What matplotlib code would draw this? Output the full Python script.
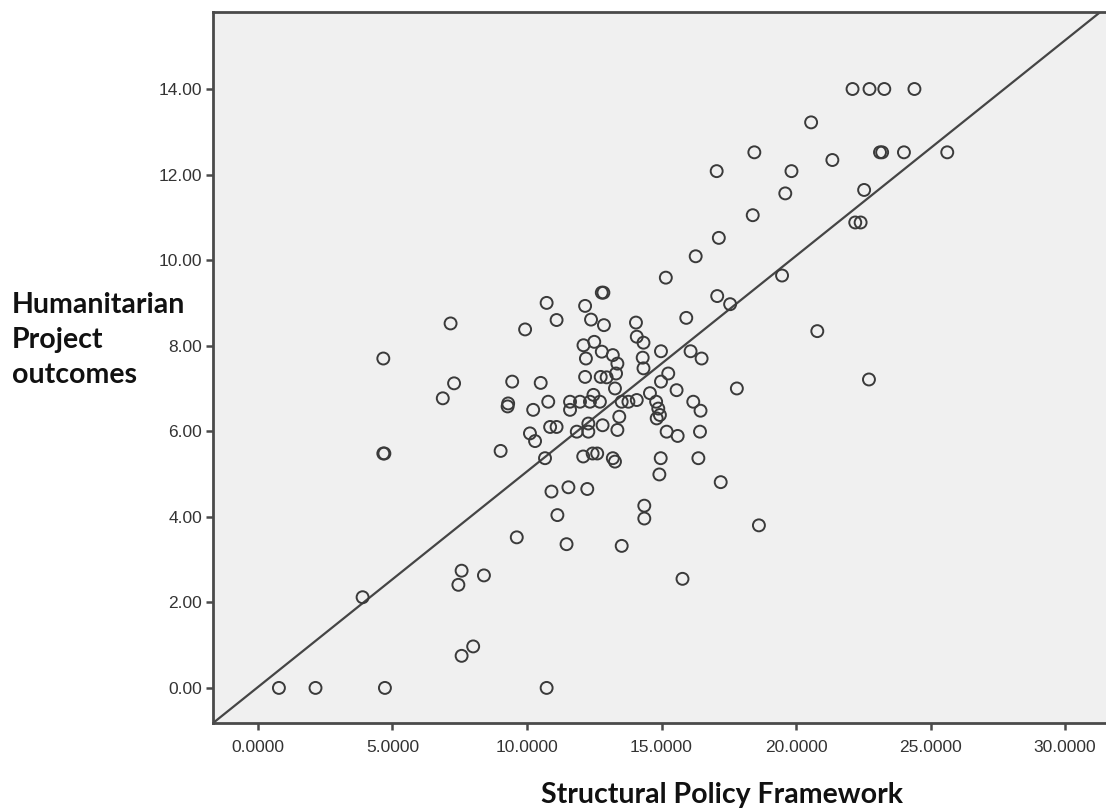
import matplotlib
matplotlib.use("Agg")
import matplotlib.pyplot as plt
from matplotlib.ticker import FormatStrFormatter

# ---- data ----
policy_x = [
    0.78, 2.14, 4.72, 10.73,
    3.89,
    7.57, 7.45, 8.40,
    7.57, 8.00,
    9.62, 11.13, 11.47, 13.52, 14.36, 14.36,
    15.78, 18.62, 17.20,
    4.66, 7.16, 7.29, 6.87, 4.66, 4.70,
    22.10, 22.73, 23.28, 24.40,
    20.56,
    18.45, 23.12, 23.20, 24.01, 25.62,
    17.05, 19.83, 21.35,
    19.60, 22.53,
    18.39, 22.20, 22.40,
    17.13, 16.27,
    15.16, 19.48,
    17.07, 17.55,
    20.79, 22.71, 17.80,
    12.78, 12.84,
    10.73, 11.10, 9.93,
    12.16, 12.38, 12.86,
    14.05, 14.08, 14.33, 14.98, 15.92,
    12.10, 12.50, 12.78, 13.19, 13.36, 12.19,
    14.30, 14.33, 16.08, 16.49,
    15.25, 14.98, 15.56,
    12.16, 12.74, 12.96, 13.31, 13.27,
    9.45, 10.51,
    9.30, 9.28,
    10.23, 10.79,
    11.60, 11.97, 12.34, 12.71, 12.47, 11.60,
    13.52, 13.77, 14.08, 14.57, 14.80, 14.88, 14.94, 14.82,
    16.18, 16.45,
    13.43, 13.36, 12.81, 12.28, 12.28, 11.85,
    10.86, 11.10, 10.11, 10.30,
    9.02, 10.67,
    12.09, 12.44, 12.61, 13.19, 13.27,
    15.19, 15.60, 16.43,
    14.97, 16.37, 14.92,
    10.91, 11.54, 12.24,
]
outcome_y = [
    0.00, 0.00, 0.00, 0.00,
    2.12,
    2.74, 2.41, 2.63,
    0.75, 0.97,
    3.52, 4.04, 3.36, 3.32, 4.26, 3.96,
    2.55, 3.80, 4.81,
    7.70, 8.52, 7.12, 6.77, 5.48, 5.48,
    14.00, 14.00, 14.00, 14.00,
    13.22,
    12.52, 12.52, 12.52, 12.52, 12.52,
    12.08, 12.08, 12.34,
    11.56, 11.64,
    11.05, 10.88, 10.88,
    10.52, 10.09,
    9.59, 9.64,
    9.16, 8.97,
    8.34, 7.21, 7.00,
    9.24, 9.24,
    9.00, 8.60, 8.38,
    8.93, 8.61, 8.48,
    8.54, 8.21, 8.07, 7.87, 8.65,
    8.01, 8.09, 7.86, 7.78, 7.58, 7.70,
    7.72, 7.47, 7.87, 7.70,
    7.35, 7.16, 6.96,
    7.27, 7.27, 7.26, 7.35, 7.00,
    7.16, 7.13,
    6.65, 6.58,
    6.50, 6.69,
    6.69, 6.69, 6.69, 6.69, 6.85, 6.50,
    6.69, 6.69, 6.73, 6.89, 6.69, 6.53, 6.38, 6.30,
    6.69, 6.48,
    6.34, 6.03, 6.14, 6.18, 5.99, 5.99,
    6.10, 6.10, 5.95, 5.77,
    5.54, 5.37,
    5.41, 5.48, 5.48, 5.37, 5.29,
    5.99, 5.89, 5.99,
    5.37, 5.37, 4.99,
    4.59, 4.69, 4.65,
]

fit_intercept = 0.02
fit_slope = 0.504

x_ticks = [0, 5, 10, 15, 20, 25, 30]
y_ticks = [0, 2, 4, 6, 8, 10, 12, 14]

x_label = "Structural Policy Framework"
y_label_lines = ["Humanitarian", "Project", "outcomes"]

# ---- figure ----
W, H = 1106, 810
fig = plt.figure(figsize=(W / 100, H / 100), dpi=100)
fig.patch.set_facecolor("white")
ax = fig.add_axes([213 / W, 1 - 723 / H, (1106 - 213) / W, (723 - 12) / H])
ax.set_facecolor("#f0f0f0")

ax.scatter(policy_x, outcome_y, s=8.6 ** 2, facecolors="none",
           edgecolors="#3a3a3a", linewidths=1.4, zorder=3)
ax.axline((0, fit_intercept), slope=fit_slope, color="#454545", lw=1.6, zorder=2)

ax.set_xlim(-1.67, 31.52)
ax.set_ylim(-0.82, 15.8)
ax.set_xticks(x_ticks)
ax.set_yticks(y_ticks)
ax.xaxis.set_major_formatter(FormatStrFormatter("%.4f"))
ax.yaxis.set_major_formatter(FormatStrFormatter("%.2f"))

for side in ["left", "bottom", "top"]:
    ax.spines[side].set_color("#4a4a4a")
    ax.spines[side].set_linewidth(2.0)
ax.spines["right"].set_visible(False)

ax.tick_params(axis="both", direction="out", length=5, width=1.8, color="#4a4a4a",
               labelsize=12.5, labelcolor="#333333")
for lab in ax.get_xticklabels() + ax.get_yticklabels():
    lab.set_family("Liberation Sans")
ax.tick_params(axis="x", pad=7)
ax.tick_params(axis="y", pad=3)

# y-axis title: three left-aligned lines
for i, line in enumerate(y_label_lines):
    fig.text(12 / W, 1 - (305 + 35 * i) / H, line, ha="left", va="center",
             fontsize=20.5, fontweight="bold", family="Lato", color="#111111")
fig.text(722 / W, 1 - 795 / H, x_label, ha="center", va="center", fontsize=20.5,
         fontweight="bold", family="Lato", color="#111111")

fig.savefig("out.png", dpi=100)
